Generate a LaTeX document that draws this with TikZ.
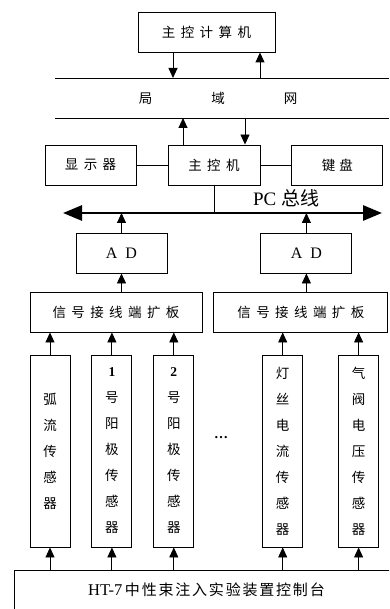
\documentclass[tikz,border=0pt]{standalone}
\usepackage{fontspec}
\setmainfont{Liberation Serif}
\newfontfamily\cjk{Noto Sans CJK SC}
\newfontfamily\cjkw[LetterSpace=40]{Noto Sans CJK SC}
\newfontfamily\cjkn[LetterSpace=12]{Noto Sans CJK SC}
\usepackage{tikz}
\usetikzlibrary{arrows.meta, positioning, calc}

\begin{document}
\begin{tikzpicture}[
    x=1pt, y=1pt,
    line width=0.9pt,
    box/.style={rectangle, draw, minimum height=40pt, inner sep=0pt,
                font=\cjkw\fontsize{13.5}{13.5}\selectfont},
    sensor/.style={rectangle, draw, minimum width=40pt, minimum height=192pt,
                   inner sep=0pt, align=center, font=\cjk\fontsize{13.5}{26}\selectfont},
    arr/.style={-{Triangle[length=10pt,width=9pt]}},
    bus/.style={{Triangle[length=19pt,width=15pt]}-{Triangle[length=19pt,width=15pt]},
                line width=2.8pt}
  ]
    \useasboundingbox (0,0) rectangle (389,-609);
    \clip (0,0) rectangle (389,-609);

    % Host and LAN
    \node[box, minimum width=137pt] (host) at (206.5,-32) {主控计算机};
    \coordinate (lanTL) at (55,-78);
    \coordinate (lanTR) at (389,-78);
    \coordinate (lanBL) at (55,-118);
    \coordinate (lanBR) at (389,-118);
    \draw (lanTL) -- (lanTR);
    \draw (lanBL) -- (lanBR);
    \node[font=\cjk\fontsize{13.5}{13.5}\selectfont] (lan) at (218,-98)
      {局\hspace{59pt}域\hspace{59pt}网};

    % Main computer row
    \node[box, minimum width=92pt] (main) at (214,-165) {主控机};
    \node[box, minimum width=91pt, left=31pt of main]  (disp) {显示器};
    \node[box, minimum width=91pt, right=31pt of main] (kbd)  {键\hspace{4pt}盘};

    % PC bus
    \coordinate (busl) at (63,-213);
    \coordinate (busr) at (382,-213);
    \node[font=\fontsize{19}{19}\selectfont] (buslabel) at (286,-198) {PC {\cjk 总线}};

    % AD converters
    \node[box, minimum width=91pt, font=\fontsize{16}{16}\selectfont] (ad1) at (121.5,-253) {A\enspace D};
    \node[box, minimum width=91pt, font=\fontsize{16}{16}\selectfont, right=93pt of ad1] (ad2) {A\enspace D};

    % Signal boards
    \node[box, minimum width=172pt] (board1) at (116,-312) {信号接线端扩板};
    \node[box, minimum width=174pt, right=11pt of board1] (board2) {信号接线端扩板};

    % Sensors
    \node[sensor] (s1) at (50,-451) {弧\\流\\传\\感\\器};
    \node[sensor, right=21pt of s1] (s2) {{\rmfamily\bfseries 1}\\号\\阳\\极\\传\\感\\器};
    \node[sensor, right=21pt of s2] (s3) {{\rmfamily\bfseries 2}\\号\\阳\\极\\传\\感\\器};
    \node[sensor, right=68pt of s3] (s4) {灯\\丝\\电\\流\\传\\感\\器};
    \node[sensor, right=35pt of s4] (s5) {气\\阀\\电\\压\\传\\感\\器};
    \node[font=\fontsize{14}{14}\selectfont] (dots) at (221,-438) {\textbf{\dots}};

    % Console
    \node[rectangle, draw, minimum width=385pt, minimum height=40pt,
          font=\fontsize{16.5}{16.5}\selectfont] (console) at (206.5,-590)
      {HT-7{\cjkn\fontsize{15}{15}\selectfont\,中性束注入实验装置控制台}};

    % Host <-> LAN <-> main
    \draw[arr] ([xshift=-33.5pt]host.south) -- ([xshift=-33.5pt]host.south |- lanTL);
    \draw[arr] ([xshift=53.5pt]host.south |- lanTL) -- ([xshift=53.5pt]host.south);
    \draw[arr] ([xshift=-31pt]main.north) -- ([xshift=-31pt]main.north |- lanBL);
    \draw[arr] ([xshift=31pt]main.north |- lanBL) -- ([xshift=31pt]main.north);
    \draw (disp) -- (main);
    \draw (main) -- (kbd);
    \draw (main.south) -- (main.south |- busl);
    \draw[bus] (busl) -- (busr);

    % Boards -> AD -> bus
    \draw[arr] (ad1.north) -- (ad1.north |- busl);
    \draw[arr] (ad2.north) -- (ad2.north |- busl);
    \draw[arr] (ad1.south |- board1.north) -- (ad1.south);
    \draw[arr] (ad2.south |- board2.north) -- (ad2.south);

    % Sensors -> boards
    \draw[arr] (s1.north) -- (s1.north |- board1.south);
    \draw[arr] (s2.north) -- (s2.north |- board1.south);
    \draw[arr] (s3.north) -- (s3.north |- board1.south);
    \draw[arr] (s4.north) -- (s4.north |- board2.south);
    \draw[arr] (s5.north) -- (s5.north |- board2.south);

    % Console -> sensors
    \draw[arr] (s1.south |- console.north) -- (s1.south);
    \draw[arr] (s2.south |- console.north) -- (s2.south);
    \draw[arr] (s3.south |- console.north) -- (s3.south);
    \draw[arr] (s4.south |- console.north) -- (s4.south);
    \draw[arr] (s5.south |- console.north) -- (s5.south);
  \end{tikzpicture}
\end{document}
